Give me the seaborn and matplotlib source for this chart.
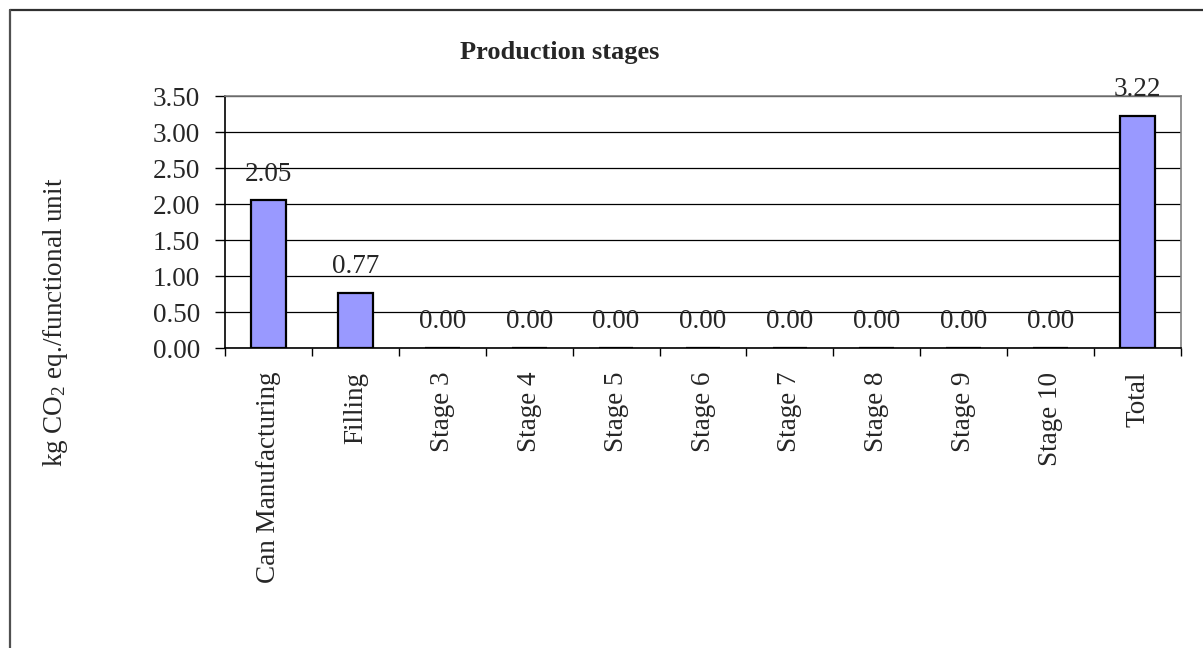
import matplotlib
matplotlib.use("Agg")
import matplotlib.pyplot as plt
from matplotlib.lines import Line2D
from matplotlib.ticker import FixedLocator, FormatStrFormatter
import seaborn as sns
import pandas as pd

stages = ["Can Manufacturing", "Filling", "Stage 3", "Stage 4", "Stage 5", "Stage 6",
          "Stage 7", "Stage 8", "Stage 9", "Stage 10", "Total"]
emissions = [2.05, 0.77, 0.00, 0.00, 0.00, 0.00, 0.00, 0.00, 0.00, 0.00, 3.22]
y_ticks = [0.0, 0.5, 1.0, 1.5, 2.0, 2.5, 3.0, 3.5]

sns.set_theme(style="white")
plt.rcParams["font.family"] = ["Liberation Serif", "DejaVu Serif"]
plt.rcParams["mathtext.fontset"] = "custom"
plt.rcParams["mathtext.rm"] = "Liberation Serif"
plt.rcParams["mathtext.it"] = "Liberation Serif:italic"

FS = 19.5

df = pd.DataFrame({"stage": stages, "value": emissions})

fig = plt.figure(figsize=(12.03, 6.48), dpi=100)
fig.patch.set_facecolor("white")
ax = fig.add_axes([225 / 1203, 1 - 348 / 648, (1181 - 225) / 1203, (348 - 96) / 648])

sns.barplot(data=df, x="stage", y="value", color="#9999FF", saturation=1,
            edgecolor="black", linewidth=1.6, width=0.4, ax=ax, zorder=3)

ax.set_xlim(-0.5, len(stages) - 0.5)
ax.set_ylim(0, 3.5)
ax.set_yticks(y_ticks)
ax.yaxis.set_major_formatter(FormatStrFormatter("%.2f"))
ax.grid(axis="y", color="black", linewidth=0.9, zorder=0)
ax.set_axisbelow(True)

# category labels at centres, tick marks at category boundaries
ax.set_xticks(range(len(stages)))
ax.set_xticklabels(stages, rotation=90, fontsize=FS)
ax.tick_params(axis="x", which="major", length=0, pad=17)
ax.xaxis.set_minor_locator(FixedLocator([i - 0.5 for i in range(len(stages) + 1)]))
ax.tick_params(axis="x", which="minor", bottom=True, length=6, width=1, color="black")
ax.tick_params(axis="y", left=True, length=7, width=1, color="black", labelsize=FS, pad=11)

ax.set_xlabel("")
ax.set_ylabel("")

for side in ["left", "bottom"]:
    ax.spines[side].set_color("black")
    ax.spines[side].set_linewidth(1.2)
for side in ["top", "right"]:
    ax.spines[side].set_color("#808080")
    ax.spines[side].set_linewidth(1.2)
    ax.spines[side].set_visible(True)

for i, v in enumerate(emissions):
    ax.annotate(f"{v:.2f}", xy=(i, v), xytext=(0, 19), textcoords="offset points",
                ha="center", va="center", fontsize=FS, zorder=5)

fig.text(560 / 1203, 1 - 53 / 648, "Production stages", ha="center", va="center",
         fontsize=19, fontweight="bold")
fig.text(55 / 1203, 1 - 322 / 648, r"kg CO$_2$ eq./functional unit", rotation=90,
         ha="center", va="center", fontsize=FS)

# chart area frame
fig.add_artist(Line2D([9.5 / 1203, 1], [1 - 9.5 / 648] * 2, color="#303030", linewidth=1.6))
fig.add_artist(Line2D([9.5 / 1203] * 2, [0, 1 - 9.5 / 648], color="#505050", linewidth=1.6))

fig.savefig("out.png", dpi=100, facecolor="white")
